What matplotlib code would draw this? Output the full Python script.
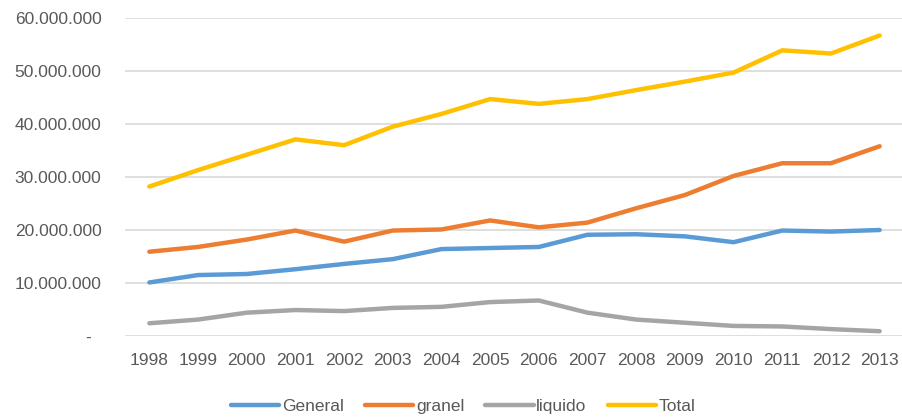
import matplotlib
matplotlib.use('Agg')
import matplotlib.pyplot as plt
from matplotlib.ticker import FuncFormatter

years = ['1998', '1999', '2000', '2001', '2002', '2003', '2004', '2005',
         '2006', '2007', '2008', '2009', '2010', '2011', '2012', '2013']
general = [10.1, 11.5, 11.7, 12.6, 13.6, 14.5, 16.4, 16.6,
           16.8, 19.1, 19.2, 18.8, 17.7, 19.9, 19.7, 20.0]
granel = [15.9, 16.8, 18.2, 19.9, 17.8, 19.9, 20.1, 21.8,
          20.5, 21.4, 24.1, 26.6, 30.2, 32.6, 32.6, 35.8]
liquido = [2.4, 3.1, 4.4, 4.9, 4.7, 5.3, 5.5, 6.4,
           6.7, 4.4, 3.1, 2.5, 1.9, 1.8, 1.3, 0.9]
total = [28.2, 31.3, 34.2, 37.1, 36.0, 39.5, 41.9, 44.7,
         43.8, 44.7, 46.4, 48.0, 49.7, 53.9, 53.3, 56.7]
series = [('General', general, '#5B9BD5'), ('granel', granel, '#ED7D31'),
          ('liquido', liquido, '#A5A5A5'), ('Total', total, '#FFC000')]

plt.rcParams['font.family'] = ['Liberation Sans', 'DejaVu Sans']
fig = plt.figure(figsize=(9.03, 4.17), dpi=100)
ax = fig.add_axes([125/903, 81/417, 779/903, 318/417])

x = range(len(years))
for name, vals, col in series:
    ax.plot(x, [v * 1e6 for v in vals], color=col, lw=3.2, label=name,
            solid_capstyle='round', solid_joinstyle='round')

def fmt(v, pos):
    if v == 0:
        return '-  '
    return f'{int(v):,}'.replace(',', '.')

ax.set_ylim(0, 60e6)
ax.set_xlim(-0.5, len(years) - 0.5)
ax.set_yticks([i * 10e6 for i in range(7)])
ax.yaxis.set_major_formatter(FuncFormatter(fmt))
ax.set_xticks(list(x))
ax.set_xticklabels(years)
ax.grid(axis='y', color='#D9D9D9', lw=1.2)
ax.set_axisbelow(True)
for s in ax.spines.values():
    s.set_visible(False)
ax.tick_params(length=0, labelsize=12.5, colors='#595959')
ax.tick_params(axis='y', pad=17)
ax.tick_params(axis='x', pad=12)

fig.legend(loc='lower center', bbox_to_anchor=(0.513, -0.03), ncol=4, frameon=False,
           fontsize=12.5, labelcolor='#595959', handlelength=2.8,
           handletextpad=0.15, columnspacing=1.2)
fig.savefig('out.png', dpi=100)
